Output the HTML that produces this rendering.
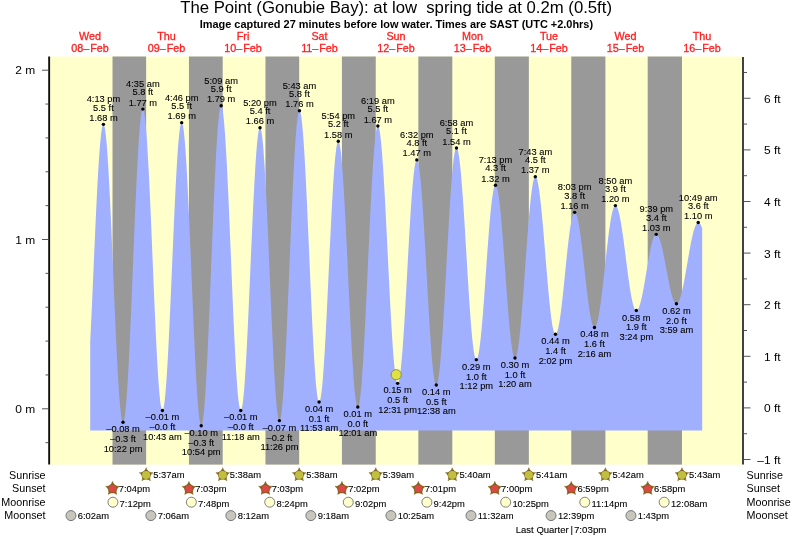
<!DOCTYPE html>
<html lang="en"><head><meta charset="utf-8"><title>The Point (Gonubie Bay) tide times</title>
<style>html,body{margin:0;padding:0;background:#fff}body{width:793px;height:538px;overflow:hidden}svg{display:block}text{font-family:"Liberation Sans",sans-serif;fill:#000}.t{font-size:9.9px;text-anchor:middle;stroke:#000;stroke-width:.1px}.s{font-size:9.4px;stroke:#000;stroke-width:.1px}.d{font-size:10.8px;fill:#ff2020;stroke:#ff2020;stroke-width:.3px;text-anchor:middle}.a{font-size:10.75px}.ar{font-size:10.75px;text-anchor:end}.ax{font-size:11px;text-anchor:end}</style></head><body>
<svg width="793" height="538" viewBox="0 0 793 538">
<rect width="793" height="538" fill="#fff"/>
<text x="396.1" y="13.1" text-anchor="middle" style="font-size:16.72px;fill:#000;white-space:pre" xml:space="preserve">The Point (Gonubie Bay): at low  spring tide at 0.2m (0.5ft)</text>
<text x="396.4" y="27.8" text-anchor="middle" style="font-size:10.95px;font-weight:bold;fill:#000">Image captured 27 minutes before low water. Times are SAST (UTC +2.0hrs)</text>
<rect x="50" y="56.5" width="692.5" height="408.1" fill="#ffffcc"/>
<rect x="112.51" y="56.5" width="33.63" height="408.1" fill="#999999"/>
<rect x="188.96" y="56.5" width="33.73" height="408.1" fill="#999999"/>
<rect x="265.46" y="56.5" width="33.73" height="408.1" fill="#999999"/>
<rect x="341.91" y="56.5" width="33.84" height="408.1" fill="#999999"/>
<rect x="418.35" y="56.5" width="33.95" height="408.1" fill="#999999"/>
<rect x="494.80" y="56.5" width="34.05" height="408.1" fill="#999999"/>
<rect x="571.25" y="56.5" width="34.16" height="408.1" fill="#999999"/>
<rect x="647.69" y="56.5" width="34.27" height="408.1" fill="#999999"/>
<path d="M90.20 430.40L90.20 341.80L90.70 331.67L91.20 321.13L91.70 310.27L92.20 299.16L92.70 287.85L93.20 276.43L93.70 264.95L94.20 253.51L94.70 242.16L95.20 230.98L95.70 220.05L96.20 209.41L96.70 199.16L97.20 189.34L97.70 180.02L98.20 171.27L98.70 163.13L99.20 155.65L99.70 148.88L100.20 142.87L100.70 137.66L101.20 133.26L101.70 129.72L102.20 127.06L102.70 125.29L103.20 124.42L103.70 124.47L104.20 125.46L104.70 127.41L105.20 130.29L105.70 134.09L106.20 138.79L106.70 144.34L107.20 150.73L107.70 157.90L108.20 165.81L108.70 174.41L109.20 183.65L109.70 193.46L110.20 203.78L110.70 214.55L111.20 225.70L111.70 237.15L112.20 248.84L112.70 260.68L113.20 272.60L113.70 284.53L114.20 296.38L114.70 308.09L115.20 319.58L115.70 330.76L116.20 341.58L116.70 351.96L117.20 361.84L117.70 371.15L118.20 379.82L118.70 387.82L119.20 395.08L119.70 401.56L120.20 407.22L120.70 412.02L121.20 415.92L121.70 418.92L122.20 420.97L122.70 422.08L123.20 422.24L123.70 421.41L124.20 419.61L124.70 416.85L125.20 413.13L125.70 408.48L126.20 402.94L126.70 396.54L127.20 389.32L127.70 381.32L128.20 372.59L128.70 363.19L129.20 353.18L129.70 342.62L130.20 331.58L130.70 320.12L131.20 308.32L131.70 296.26L132.20 284.00L132.70 271.63L133.20 259.21L133.70 246.84L134.20 234.59L134.70 222.54L135.20 210.75L135.70 199.31L136.20 188.29L136.70 177.75L137.20 167.77L137.70 158.40L138.20 149.70L138.70 141.73L139.20 134.54L139.70 128.18L140.20 122.68L140.70 118.07L141.20 114.40L141.70 111.67L142.20 109.91L142.70 109.13L143.20 109.33L143.70 110.50L144.20 112.64L144.70 115.72L145.20 119.73L145.70 124.65L146.20 130.44L146.70 137.06L147.20 144.48L147.70 152.63L148.20 161.48L148.70 170.97L149.20 181.02L149.70 191.59L150.20 202.59L150.70 213.97L151.20 225.64L151.70 237.53L152.20 249.56L152.70 261.66L153.20 273.74L153.70 285.74L154.20 297.57L154.70 309.15L155.20 320.42L155.70 331.29L156.20 341.71L156.70 351.59L157.20 360.88L157.70 369.52L158.20 377.46L158.70 384.63L159.20 390.99L159.70 396.51L160.20 401.15L160.70 404.88L161.20 407.66L161.70 409.50L162.20 410.37L162.70 410.27L163.20 409.21L163.70 407.21L164.20 404.28L164.70 400.43L165.20 395.70L165.70 390.11L166.20 383.70L166.70 376.51L167.20 368.59L167.70 360.00L168.20 350.79L168.70 341.01L169.20 330.75L169.70 320.06L170.20 309.01L170.70 297.68L171.20 286.15L171.70 274.48L172.20 262.77L172.70 251.07L173.20 239.48L173.70 228.07L174.20 216.92L174.70 206.09L175.20 195.67L175.70 185.71L176.20 176.29L176.70 167.47L177.20 159.31L177.70 151.85L178.20 145.16L178.70 139.27L179.20 134.23L179.70 130.06L180.20 126.80L180.70 124.47L181.20 123.08L181.70 122.63L182.20 123.16L182.70 124.66L183.20 127.12L183.70 130.54L184.20 134.88L184.70 140.11L185.20 146.22L185.70 153.15L186.20 160.86L186.70 169.30L187.20 178.41L187.70 188.15L188.20 198.44L188.70 209.22L189.20 220.41L189.70 231.96L190.20 243.78L190.70 255.79L191.20 267.92L191.70 280.09L192.20 292.22L192.70 304.24L193.20 316.06L193.70 327.61L194.20 338.82L194.70 349.61L195.20 359.91L195.70 369.66L196.20 378.80L196.70 387.25L197.20 394.98L197.70 401.93L198.20 408.06L198.70 413.32L199.20 417.68L199.70 421.12L200.20 423.60L200.70 425.13L201.20 425.68L201.70 425.24L202.20 423.82L202.70 421.41L203.20 418.03L203.70 413.71L204.20 408.47L204.70 402.34L205.20 395.36L205.70 387.57L206.20 379.03L206.70 369.78L207.20 359.89L207.70 349.41L208.20 338.41L208.70 326.96L209.20 315.13L209.70 302.99L210.20 290.62L210.70 278.10L211.20 265.49L211.70 252.89L212.20 240.37L212.70 228.01L213.20 215.88L213.70 204.06L214.20 192.62L214.70 181.64L215.20 171.17L215.70 161.30L216.20 152.08L216.70 143.56L217.20 135.80L217.70 128.84L218.20 122.74L218.70 117.53L219.20 113.23L219.70 109.89L220.20 107.51L220.70 106.11L221.20 105.71L221.70 106.29L222.20 107.84L222.70 110.36L223.20 113.83L223.70 118.22L224.20 123.51L224.70 129.66L225.20 136.64L225.70 144.40L226.20 152.88L226.70 162.04L227.20 171.82L227.70 182.15L228.20 192.97L228.70 204.21L229.20 215.79L229.70 227.64L230.20 239.69L230.70 251.86L231.20 264.06L231.70 276.23L232.20 288.28L232.70 300.14L233.20 311.73L233.70 322.97L234.20 333.79L234.70 344.14L235.20 353.92L235.70 363.10L236.20 371.60L236.70 379.37L237.20 386.36L237.70 392.53L238.20 397.84L238.70 402.24L239.20 405.73L239.70 408.27L240.20 409.84L240.70 410.44L241.20 410.07L241.70 408.77L242.20 406.53L242.70 403.38L243.20 399.33L243.70 394.41L244.20 388.66L244.70 382.11L245.20 374.80L245.70 366.79L246.20 358.13L246.70 348.88L247.20 339.09L247.70 328.84L248.20 318.19L248.70 307.21L249.20 295.97L249.70 284.56L250.20 273.05L250.70 261.50L251.20 250.01L251.70 238.65L252.20 227.48L252.70 216.60L253.20 206.07L253.70 195.95L254.20 186.32L254.70 177.25L255.20 168.79L255.70 160.99L256.20 153.92L256.70 147.61L257.20 142.12L257.70 137.47L258.20 133.70L258.70 130.83L259.20 128.88L259.70 127.87L260.20 127.80L260.70 128.68L261.20 130.51L261.70 133.28L262.20 136.97L262.70 141.55L263.20 147.00L263.70 153.28L264.20 160.34L264.70 168.15L265.20 176.65L265.70 185.79L266.20 195.50L266.70 205.72L267.20 216.39L267.70 227.44L268.20 238.80L268.70 250.38L269.20 262.12L269.70 273.93L270.20 285.75L270.70 297.50L271.20 309.09L271.70 320.45L272.20 331.51L272.70 342.20L273.20 352.44L273.70 362.17L274.20 371.33L274.70 379.86L275.20 387.69L275.70 394.78L276.20 401.09L276.70 406.57L277.20 411.19L277.70 414.91L278.20 417.71L278.70 419.58L279.20 420.50L279.70 420.46L280.20 419.48L280.70 417.54L281.20 414.68L281.70 410.89L282.20 406.22L282.70 400.68L283.20 394.31L283.70 387.15L284.20 379.25L284.70 370.64L285.20 361.39L285.70 351.55L286.20 341.19L286.70 330.36L287.20 319.13L287.70 307.57L288.20 295.76L288.70 283.76L289.20 271.65L289.70 259.50L290.20 247.40L290.70 235.40L291.20 223.59L291.70 212.04L292.20 200.82L292.70 190.00L293.20 179.64L293.70 169.81L294.20 160.57L294.70 151.98L295.20 144.09L295.70 136.94L296.20 130.59L296.70 125.07L297.20 120.41L297.70 116.64L298.20 113.79L298.70 111.88L299.20 110.91L299.70 110.89L300.20 111.80L300.70 113.63L301.20 116.38L301.70 120.02L302.20 124.53L302.70 129.88L303.20 136.04L303.70 142.96L304.20 150.61L304.70 158.94L305.20 167.89L305.70 177.40L306.20 187.41L306.70 197.87L307.20 208.70L307.70 219.83L308.20 231.20L308.70 242.73L309.20 254.34L309.70 265.97L310.20 277.54L310.70 288.97L311.20 300.19L311.70 311.14L312.20 321.73L312.70 331.91L313.20 341.61L313.70 350.76L314.20 359.31L314.70 367.20L315.20 374.38L315.70 380.82L316.20 386.45L316.70 391.26L317.20 395.21L317.70 398.27L318.20 400.42L318.70 401.66L319.20 401.97L319.70 401.38L320.20 399.93L320.70 397.61L321.20 394.45L321.70 390.47L322.20 385.69L322.70 380.14L323.20 373.87L323.70 366.91L324.20 359.32L324.70 351.13L325.20 342.41L325.70 333.22L326.20 323.62L326.70 313.66L327.20 303.42L327.70 292.97L328.20 282.38L328.70 271.72L329.20 261.05L329.70 250.46L330.20 240.00L330.70 229.76L331.20 219.80L331.70 210.19L332.20 200.99L332.70 192.26L333.20 184.06L333.70 176.46L334.20 169.49L334.70 163.20L335.20 157.64L335.70 152.85L336.20 148.85L336.70 145.67L337.20 143.34L337.70 141.87L338.20 141.27L338.70 141.54L339.20 142.67L339.70 144.65L340.20 147.48L340.70 151.12L341.20 155.56L341.70 160.78L342.20 166.72L342.70 173.37L343.20 180.67L343.70 188.57L344.20 197.03L344.70 205.99L345.20 215.40L345.70 225.18L346.20 235.28L346.70 245.64L347.20 256.18L347.70 266.83L348.20 277.54L348.70 288.22L349.20 298.81L349.70 309.24L350.20 319.44L350.70 329.35L351.20 338.90L351.70 348.03L352.20 356.68L352.70 364.80L353.20 372.33L353.70 379.22L354.20 385.43L354.70 390.91L355.20 395.65L355.70 399.59L356.20 402.72L356.70 405.01L357.20 406.46L357.70 407.04L358.20 406.77L358.70 405.64L359.20 403.66L359.70 400.83L360.20 397.19L360.70 392.75L361.20 387.54L361.70 381.59L362.20 374.93L362.70 367.61L363.20 359.67L363.70 351.16L364.20 342.14L364.70 332.65L365.20 322.76L365.70 312.53L366.20 302.01L366.70 291.28L367.20 280.39L367.70 269.42L368.20 258.44L368.70 247.50L369.20 236.68L369.70 226.04L370.20 215.65L370.70 205.57L371.20 195.86L371.70 186.59L372.20 177.80L372.70 169.56L373.20 161.91L373.70 154.90L374.20 148.57L374.70 142.97L375.20 138.12L375.70 134.05L376.20 130.80L376.70 128.37L377.20 126.79L377.70 126.07L378.20 126.19L378.70 127.13L379.20 128.88L379.70 131.41L380.20 134.73L380.70 138.80L381.20 143.61L381.70 149.12L382.20 155.29L382.70 162.09L383.20 169.48L383.70 177.40L384.20 185.81L384.70 194.66L385.20 203.89L385.70 213.43L386.20 223.24L386.70 233.25L387.20 243.39L387.70 253.60L388.20 263.82L388.70 273.98L389.20 284.02L389.70 293.88L390.20 303.48L390.70 312.78L391.20 321.71L391.70 330.22L392.20 338.26L392.70 345.76L393.20 352.69L393.70 359.00L394.20 364.65L394.70 369.61L395.20 373.84L395.70 377.32L396.20 380.02L396.70 381.94L397.20 383.05L397.70 383.35L398.20 382.88L398.70 381.66L399.20 379.70L399.70 377.02L400.20 373.63L400.70 369.56L401.20 364.83L401.70 359.48L402.20 353.53L402.70 347.04L403.20 340.04L403.70 332.59L404.20 324.72L404.70 316.50L405.20 307.98L405.70 299.21L406.20 290.26L406.70 281.19L407.20 272.05L407.70 262.90L408.20 253.82L408.70 244.85L409.20 236.07L409.70 227.52L410.20 219.27L410.70 211.37L411.20 203.87L411.70 196.83L412.20 190.29L412.70 184.29L413.20 178.88L413.70 174.09L414.20 169.96L414.70 166.50L415.20 163.75L415.70 161.73L416.20 160.44L416.70 159.90L417.20 160.10L417.70 161.03L418.20 162.70L418.70 165.07L419.20 168.15L419.70 171.91L420.20 176.33L420.70 181.37L421.20 187.00L421.70 193.20L422.20 199.91L422.70 207.09L423.20 214.70L423.70 222.69L424.20 231.00L424.70 239.58L425.20 248.38L425.70 257.33L426.20 266.38L426.70 275.48L427.20 284.55L427.70 293.54L428.20 302.40L428.70 311.06L429.20 319.47L429.70 327.57L430.20 335.31L430.70 342.65L431.20 349.52L431.70 355.89L432.20 361.72L432.70 366.97L433.20 371.60L433.70 375.58L434.20 378.89L434.70 381.51L435.20 383.41L435.70 384.59L436.20 385.04L436.70 384.77L437.20 383.77L437.70 382.07L438.20 379.67L438.70 376.58L439.20 372.83L439.70 368.43L440.20 363.42L440.70 357.82L441.20 351.67L441.70 345.01L442.20 337.86L442.70 330.29L443.20 322.33L443.70 314.04L444.20 305.45L444.70 296.64L445.20 287.63L445.70 278.51L446.20 269.30L446.70 260.09L447.20 250.91L447.70 241.82L448.20 232.89L448.70 224.16L449.20 215.68L449.70 207.52L450.20 199.71L450.70 192.30L451.20 185.35L451.70 178.88L452.20 172.95L452.70 167.58L453.20 162.81L453.70 158.67L454.20 155.18L454.70 152.36L455.20 150.24L455.70 148.82L456.20 148.11L456.70 148.11L457.20 148.78L457.70 150.11L458.20 152.08L458.70 154.69L459.20 157.92L459.70 161.75L460.20 166.15L460.70 171.10L461.20 176.57L461.70 182.52L462.20 188.91L462.70 195.71L463.20 202.88L463.70 210.36L464.20 218.11L464.70 226.09L465.20 234.24L465.70 242.52L466.20 250.86L466.70 259.22L467.20 267.55L467.70 275.80L468.20 283.90L468.70 291.82L469.20 299.50L469.70 306.90L470.20 313.96L470.70 320.65L471.20 326.92L471.70 332.74L472.20 338.06L472.70 342.86L473.20 347.10L473.70 350.75L474.20 353.80L474.70 356.23L475.20 358.02L475.70 359.16L476.20 359.64L476.70 359.48L477.20 358.73L477.70 357.41L478.20 355.52L478.70 353.07L479.20 350.08L479.70 346.57L480.20 342.56L480.70 338.09L481.20 333.17L481.70 327.85L482.20 322.15L482.70 316.12L483.20 309.80L483.70 303.23L484.20 296.45L484.70 289.51L485.20 282.46L485.70 275.34L486.20 268.20L486.70 261.09L487.20 254.06L487.70 247.15L488.20 240.41L488.70 233.88L489.20 227.61L489.70 221.65L490.20 216.02L490.70 210.77L491.20 205.94L491.70 201.55L492.20 197.64L492.70 194.23L493.20 191.34L493.70 189.00L494.20 187.22L494.70 186.00L495.20 185.37L495.70 185.32L496.20 185.84L496.70 186.91L497.20 188.53L497.70 190.69L498.20 193.37L498.70 196.56L499.20 200.24L499.70 204.39L500.20 208.96L500.70 213.95L501.20 219.31L501.70 225.00L502.20 231.01L502.70 237.27L503.20 243.76L503.70 250.42L504.20 257.23L504.70 264.13L505.20 271.07L505.70 278.02L506.20 284.93L506.70 291.76L507.20 298.45L507.70 304.97L508.20 311.27L508.70 317.31L509.20 323.06L509.70 328.47L510.20 333.52L510.70 338.16L511.20 342.37L511.70 346.13L512.20 349.40L512.70 352.16L513.20 354.40L513.70 356.11L514.20 357.27L514.70 357.87L515.20 357.91L515.70 357.41L516.20 356.38L516.70 354.81L517.20 352.73L517.70 350.13L518.20 347.04L518.70 343.48L519.20 339.47L519.70 335.02L520.20 330.18L520.70 324.95L521.20 319.39L521.70 313.51L522.20 307.37L522.70 300.98L523.20 294.39L523.70 287.64L524.20 280.77L524.70 273.83L525.20 266.84L525.70 259.85L526.20 252.92L526.70 246.06L527.20 239.34L527.70 232.78L528.20 226.43L528.70 220.32L529.20 214.49L529.70 208.98L530.20 203.81L530.70 199.02L531.20 194.65L531.70 190.70L532.20 187.21L532.70 184.20L533.20 181.68L533.70 179.68L534.20 178.19L534.70 177.24L535.20 176.83L535.70 176.94L536.20 177.53L536.70 178.59L537.20 180.12L537.70 182.11L538.20 184.55L538.70 187.42L539.20 190.70L539.70 194.38L540.20 198.43L540.70 202.82L541.20 207.54L541.70 212.55L542.20 217.82L542.70 223.32L543.20 229.02L543.70 234.88L544.20 240.86L544.70 246.93L545.20 253.06L545.70 259.20L546.20 265.32L546.70 271.37L547.20 277.34L547.70 283.17L548.20 288.83L548.70 294.28L549.20 299.51L549.70 304.46L550.20 309.12L550.70 313.45L551.20 317.43L551.70 321.03L552.20 324.24L552.70 327.03L553.20 329.38L553.70 331.28L554.20 332.72L554.70 333.69L555.20 334.19L555.70 334.21L556.20 333.82L556.70 333.02L557.20 331.82L557.70 330.23L558.20 328.26L558.70 325.92L559.20 323.22L559.70 320.19L560.20 316.85L560.70 313.22L561.20 309.31L561.70 305.17L562.20 300.81L562.70 296.27L563.20 291.57L563.70 286.75L564.20 281.85L564.70 276.88L565.20 271.89L565.70 266.91L566.20 261.97L566.70 257.11L567.20 252.36L567.70 247.75L568.20 243.31L568.70 239.07L569.20 235.06L569.70 231.30L570.20 227.83L570.70 224.66L571.20 221.82L571.70 219.33L572.20 217.19L572.70 215.44L573.20 214.07L573.70 213.09L574.20 212.53L574.70 212.36L575.20 212.58L575.70 213.16L576.20 214.10L576.70 215.38L577.20 217.01L577.70 218.97L578.20 221.26L578.70 223.84L579.20 226.72L579.70 229.87L580.20 233.27L580.70 236.90L581.20 240.73L581.70 244.75L582.20 248.93L582.70 253.24L583.20 257.66L583.70 262.15L584.20 266.69L584.70 271.25L585.20 275.80L585.70 280.32L586.20 284.77L586.70 289.13L587.20 293.36L587.70 297.45L588.20 301.37L588.70 305.09L589.20 308.59L589.70 311.84L590.20 314.83L590.70 317.55L591.20 319.96L591.70 322.05L592.20 323.82L592.70 325.25L593.20 326.34L593.70 327.07L594.20 327.44L594.70 327.45L595.20 327.11L595.70 326.44L596.20 325.43L596.70 324.08L597.20 322.41L597.70 320.43L598.20 318.15L598.70 315.57L599.20 312.72L599.70 309.60L600.20 306.25L600.70 302.67L601.20 298.89L601.70 294.93L602.20 290.80L602.70 286.54L603.20 282.17L603.70 277.71L604.20 273.19L604.70 268.62L605.20 264.05L605.70 259.49L606.20 254.97L606.70 250.52L607.20 246.16L607.70 241.91L608.20 237.80L608.70 233.85L609.20 230.08L609.70 226.52L610.20 223.19L610.70 220.10L611.20 217.27L611.70 214.72L612.20 212.46L612.70 210.50L613.20 208.86L613.70 207.55L614.20 206.57L614.70 205.92L615.20 205.62L615.70 205.65L616.20 205.97L616.70 206.60L617.20 207.51L617.70 208.70L618.20 210.18L618.70 211.92L619.20 213.92L619.70 216.18L620.20 218.66L620.70 221.37L621.20 224.29L621.70 227.40L622.20 230.67L622.70 234.11L623.20 237.68L623.70 241.36L624.20 245.14L624.70 248.99L625.20 252.89L625.70 256.82L626.20 260.76L626.70 264.68L627.20 268.56L627.70 272.39L628.20 276.13L628.70 279.78L629.20 283.30L629.70 286.68L630.20 289.90L630.70 292.94L631.20 295.78L631.70 298.41L632.20 300.81L632.70 302.98L633.20 304.89L633.70 306.54L634.20 307.91L634.70 309.00L635.20 309.81L635.70 310.33L636.20 310.55L636.70 310.49L637.20 310.19L637.70 309.66L638.20 308.90L638.70 307.92L639.20 306.71L639.70 305.29L640.20 303.66L640.70 301.84L641.20 299.84L641.70 297.67L642.20 295.34L642.70 292.87L643.20 290.28L643.70 287.57L644.20 284.77L644.70 281.89L645.20 278.95L645.70 275.98L646.20 272.98L646.70 269.98L647.20 266.99L647.70 264.04L648.20 261.14L648.70 258.31L649.20 255.57L649.70 252.93L650.20 250.42L650.70 248.04L651.20 245.81L651.70 243.75L652.20 241.87L652.70 240.18L653.20 238.68L653.70 237.40L654.20 236.34L654.70 235.50L655.20 234.89L655.70 234.51L656.20 234.37L656.70 234.46L657.20 234.75L657.70 235.25L658.20 235.96L658.70 236.87L659.20 237.97L659.70 239.26L660.20 240.73L660.70 242.38L661.20 244.18L661.70 246.14L662.20 248.23L662.70 250.45L663.20 252.78L663.70 255.21L664.20 257.73L664.70 260.31L665.20 262.95L665.70 265.62L666.20 268.32L666.70 271.02L667.20 273.71L667.70 276.36L668.20 278.98L668.70 281.54L669.20 284.02L669.70 286.41L670.20 288.69L670.70 290.86L671.20 292.89L671.70 294.78L672.20 296.52L672.70 298.09L673.20 299.48L673.70 300.69L674.20 301.71L674.70 302.53L675.20 303.15L675.70 303.56L676.20 303.76L676.70 303.75L677.20 303.54L677.70 303.11L678.20 302.47L678.70 301.63L679.20 300.59L679.70 299.36L680.20 297.94L680.70 296.33L681.20 294.56L681.70 292.62L682.20 290.53L682.70 288.29L683.20 285.93L683.70 283.44L684.20 280.85L684.70 278.17L685.20 275.41L685.70 272.59L686.20 269.72L686.70 266.81L687.20 263.88L687.70 260.96L688.20 258.04L688.70 255.15L689.20 252.30L689.70 249.50L690.20 246.78L690.70 244.14L691.20 241.61L691.70 239.18L692.20 236.88L692.70 234.71L693.20 232.70L693.70 230.84L694.20 229.15L694.70 227.63L695.20 226.30L695.70 225.17L696.20 224.23L696.70 223.49L697.20 222.96L697.70 222.63L698.20 222.52L698.70 222.61L699.20 222.89L699.70 223.35L700.20 224.00L700.70 224.84L701.20 225.84L701.70 227.02L702.20 228.37L702.20 430.40 Z" fill="#a0b0ff"/>
<g stroke="#111" stroke-width="1.9" fill="none">
<line x1="49.15" y1="56.5" x2="49.15" y2="464.6"/>
</g><g stroke="#2c2c2c" stroke-width="1.8" fill="none">
<line x1="743" y1="57" x2="743" y2="464.6"/>
</g><g stroke="#555" stroke-width="1" fill="none">
<line x1="45.5" y1="442.66" x2="48.5" y2="442.66"/>
<line x1="42" y1="408.80" x2="48.5" y2="408.80"/>
<line x1="45.5" y1="374.94" x2="48.5" y2="374.94"/>
<line x1="45.5" y1="341.08" x2="48.5" y2="341.08"/>
<line x1="45.5" y1="307.22" x2="48.5" y2="307.22"/>
<line x1="45.5" y1="273.36" x2="48.5" y2="273.36"/>
<line x1="42" y1="239.50" x2="48.5" y2="239.50"/>
<line x1="45.5" y1="205.64" x2="48.5" y2="205.64"/>
<line x1="45.5" y1="171.78" x2="48.5" y2="171.78"/>
<line x1="45.5" y1="137.92" x2="48.5" y2="137.92"/>
<line x1="45.5" y1="104.06" x2="48.5" y2="104.06"/>
<line x1="42" y1="70.20" x2="48.5" y2="70.20"/>
<line x1="743.5" y1="459.50" x2="750.5" y2="459.50"/>
<line x1="743.5" y1="433.70" x2="747" y2="433.70"/>
<line x1="743.5" y1="407.90" x2="750.5" y2="407.90"/>
<line x1="743.5" y1="382.10" x2="747" y2="382.10"/>
<line x1="743.5" y1="356.30" x2="750.5" y2="356.30"/>
<line x1="743.5" y1="330.50" x2="747" y2="330.50"/>
<line x1="743.5" y1="304.69" x2="750.5" y2="304.69"/>
<line x1="743.5" y1="278.89" x2="747" y2="278.89"/>
<line x1="743.5" y1="253.09" x2="750.5" y2="253.09"/>
<line x1="743.5" y1="227.29" x2="747" y2="227.29"/>
<line x1="743.5" y1="201.49" x2="750.5" y2="201.49"/>
<line x1="743.5" y1="175.69" x2="747" y2="175.69"/>
<line x1="743.5" y1="149.89" x2="750.5" y2="149.89"/>
<line x1="743.5" y1="124.09" x2="747" y2="124.09"/>
<line x1="743.5" y1="98.28" x2="750.5" y2="98.28"/>
<line x1="743.5" y1="72.48" x2="747" y2="72.48"/>
</g>
<text class="ax" transform="translate(35.3 412.8) scale(1.09 1)">0 m</text>
<text class="ax" transform="translate(35.3 243.5) scale(1.09 1)">1 m</text>
<text class="ax" transform="translate(35.3 74.2) scale(1.09 1)">2 m</text>
<text class="ax" transform="translate(780.6 463.9) scale(1.09 1)">–1 ft</text>
<text class="ax" transform="translate(780.6 412.3) scale(1.09 1)">0 ft</text>
<text class="ax" transform="translate(780.6 360.7) scale(1.09 1)">1 ft</text>
<text class="ax" transform="translate(780.6 309.1) scale(1.09 1)">2 ft</text>
<text class="ax" transform="translate(780.6 257.5) scale(1.09 1)">3 ft</text>
<text class="ax" transform="translate(780.6 205.9) scale(1.09 1)">4 ft</text>
<text class="ax" transform="translate(780.6 154.3) scale(1.09 1)">5 ft</text>
<text class="ax" transform="translate(780.6 102.7) scale(1.09 1)">6 ft</text>
<text class="d" x="90.0" y="39.5">Wed</text>
<text class="d" x="90.0" y="51.6">08–<tspan dx="0.9">Feb</tspan></text>
<text class="d" x="166.5" y="39.5">Thu</text>
<text class="d" x="166.5" y="51.6">09–<tspan dx="0.9">Feb</tspan></text>
<text class="d" x="243.0" y="39.5">Fri</text>
<text class="d" x="243.0" y="51.6">10–<tspan dx="0.9">Feb</tspan></text>
<text class="d" x="319.5" y="39.5">Sat</text>
<text class="d" x="319.5" y="51.6">11–<tspan dx="0.9">Feb</tspan></text>
<text class="d" x="396.0" y="39.5">Sun</text>
<text class="d" x="396.0" y="51.6">12–<tspan dx="0.9">Feb</tspan></text>
<text class="d" x="472.5" y="39.5">Mon</text>
<text class="d" x="472.5" y="51.6">13–<tspan dx="0.9">Feb</tspan></text>
<text class="d" x="549.0" y="39.5">Tue</text>
<text class="d" x="549.0" y="51.6">14–<tspan dx="0.9">Feb</tspan></text>
<text class="d" x="625.5" y="39.5">Wed</text>
<text class="d" x="625.5" y="51.6">15–<tspan dx="0.9">Feb</tspan></text>
<text class="d" x="702.0" y="39.5">Thu</text>
<text class="d" x="702.0" y="51.6">16–<tspan dx="0.9">Feb</tspan></text>
<circle cx="103.43" cy="124.33" r="1.7" fill="#000"/>
<text class="t" transform="translate(103.43 102.43) scale(0.94 1)">4:13 pm</text>
<text class="t" transform="translate(103.43 110.53) scale(0.94 1)">5.5 ft</text>
<text class="t" transform="translate(103.43 120.93) scale(0.94 1)">1.68 m</text>
<circle cx="123.03" cy="422.29" r="1.7" fill="#000"/>
<text class="t" transform="translate(123.03 432.29) scale(0.94 1)">–0.08 m</text>
<text class="t" transform="translate(123.03 442.19) scale(0.94 1)">–0.3 ft</text>
<text class="t" transform="translate(123.03 451.59) scale(0.94 1)">10:22 pm</text>
<circle cx="142.85" cy="109.09" r="1.7" fill="#000"/>
<text class="t" transform="translate(142.85 87.19) scale(0.94 1)">4:35 am</text>
<text class="t" transform="translate(142.85 95.29) scale(0.94 1)">5.8 ft</text>
<text class="t" transform="translate(142.85 105.69) scale(0.94 1)">1.77 m</text>
<circle cx="162.40" cy="410.44" r="1.7" fill="#000"/>
<text class="t" transform="translate(162.40 420.44) scale(0.94 1)">–0.01 m</text>
<text class="t" transform="translate(162.40 430.34) scale(0.94 1)">–0.0 ft</text>
<text class="t" transform="translate(162.40 439.74) scale(0.94 1)">10:43 am</text>
<circle cx="181.68" cy="122.63" r="1.7" fill="#000"/>
<text class="t" transform="translate(181.68 100.73) scale(0.94 1)">4:46 pm</text>
<text class="t" transform="translate(181.68 108.83) scale(0.94 1)">5.5 ft</text>
<text class="t" transform="translate(181.68 119.23) scale(0.94 1)">1.69 m</text>
<circle cx="201.23" cy="425.68" r="1.7" fill="#000"/>
<text class="t" transform="translate(201.23 435.68) scale(0.94 1)">–0.10 m</text>
<text class="t" transform="translate(201.23 445.58) scale(0.94 1)">–0.3 ft</text>
<text class="t" transform="translate(201.23 454.98) scale(0.94 1)">10:54 pm</text>
<circle cx="221.15" cy="105.70" r="1.7" fill="#000"/>
<text class="t" transform="translate(221.15 83.80) scale(0.94 1)">5:09 am</text>
<text class="t" transform="translate(221.15 91.90) scale(0.94 1)">5.9 ft</text>
<text class="t" transform="translate(221.15 102.30) scale(0.94 1)">1.79 m</text>
<circle cx="240.76" cy="410.44" r="1.7" fill="#000"/>
<text class="t" transform="translate(240.76 420.44) scale(0.94 1)">–0.01 m</text>
<text class="t" transform="translate(240.76 430.34) scale(0.94 1)">–0.0 ft</text>
<text class="t" transform="translate(240.76 439.74) scale(0.94 1)">11:18 am</text>
<circle cx="259.99" cy="127.71" r="1.7" fill="#000"/>
<text class="t" transform="translate(259.99 105.81) scale(0.94 1)">5:20 pm</text>
<text class="t" transform="translate(259.99 113.91) scale(0.94 1)">5.4 ft</text>
<text class="t" transform="translate(259.99 124.31) scale(0.94 1)">1.66 m</text>
<circle cx="279.43" cy="420.60" r="1.7" fill="#000"/>
<text class="t" transform="translate(279.43 430.60) scale(0.94 1)">–0.07 m</text>
<text class="t" transform="translate(279.43 440.50) scale(0.94 1)">–0.2 ft</text>
<text class="t" transform="translate(279.43 449.90) scale(0.94 1)">11:26 pm</text>
<circle cx="299.46" cy="110.78" r="1.7" fill="#000"/>
<text class="t" transform="translate(299.46 88.88) scale(0.94 1)">5:43 am</text>
<text class="t" transform="translate(299.46 96.98) scale(0.94 1)">5.8 ft</text>
<text class="t" transform="translate(299.46 107.38) scale(0.94 1)">1.76 m</text>
<circle cx="319.12" cy="401.98" r="1.7" fill="#000"/>
<text class="t" transform="translate(319.12 411.98) scale(0.94 1)">0.04 m</text>
<text class="t" transform="translate(319.12 421.88) scale(0.94 1)">0.1 ft</text>
<text class="t" transform="translate(319.12 431.28) scale(0.94 1)">11:53 am</text>
<circle cx="338.29" cy="141.26" r="1.7" fill="#000"/>
<text class="t" transform="translate(338.29 119.36) scale(0.94 1)">5:54 pm</text>
<text class="t" transform="translate(338.29 127.46) scale(0.94 1)">5.2 ft</text>
<text class="t" transform="translate(338.29 137.86) scale(0.94 1)">1.58 m</text>
<circle cx="357.79" cy="407.06" r="1.7" fill="#000"/>
<text class="t" transform="translate(357.79 417.06) scale(0.94 1)">0.01 m</text>
<text class="t" transform="translate(357.79 426.96) scale(0.94 1)">0.0 ft</text>
<text class="t" transform="translate(357.79 436.36) scale(0.94 1)">12:01 am</text>
<circle cx="377.87" cy="126.02" r="1.7" fill="#000"/>
<text class="t" transform="translate(377.87 104.12) scale(0.94 1)">6:19 am</text>
<text class="t" transform="translate(377.87 112.22) scale(0.94 1)">5.5 ft</text>
<text class="t" transform="translate(377.87 122.62) scale(0.94 1)">1.67 m</text>
<circle cx="397.63" cy="383.36" r="1.7" fill="#000"/>
<text class="t" transform="translate(397.63 393.36) scale(0.94 1)">0.15 m</text>
<text class="t" transform="translate(397.63 403.25) scale(0.94 1)">0.5 ft</text>
<text class="t" transform="translate(397.63 412.66) scale(0.94 1)">12:31 pm</text>
<circle cx="416.81" cy="159.88" r="1.7" fill="#000"/>
<text class="t" transform="translate(416.81 137.98) scale(0.94 1)">6:32 pm</text>
<text class="t" transform="translate(416.81 146.08) scale(0.94 1)">4.8 ft</text>
<text class="t" transform="translate(416.81 156.48) scale(0.94 1)">1.47 m</text>
<circle cx="436.26" cy="385.05" r="1.7" fill="#000"/>
<text class="t" transform="translate(436.26 395.05) scale(0.94 1)">0.14 m</text>
<text class="t" transform="translate(436.26 404.95) scale(0.94 1)">0.5 ft</text>
<text class="t" transform="translate(436.26 414.35) scale(0.94 1)">12:38 am</text>
<circle cx="456.44" cy="148.03" r="1.7" fill="#000"/>
<text class="t" transform="translate(456.44 126.13) scale(0.94 1)">6:58 am</text>
<text class="t" transform="translate(456.44 134.23) scale(0.94 1)">5.1 ft</text>
<text class="t" transform="translate(456.44 144.63) scale(0.94 1)">1.54 m</text>
<circle cx="476.31" cy="359.65" r="1.7" fill="#000"/>
<text class="t" transform="translate(476.31 369.65) scale(0.94 1)">0.29 m</text>
<text class="t" transform="translate(476.31 379.55) scale(0.94 1)">1.0 ft</text>
<text class="t" transform="translate(476.31 388.95) scale(0.94 1)">1:12 pm</text>
<circle cx="495.49" cy="185.27" r="1.7" fill="#000"/>
<text class="t" transform="translate(495.49 163.37) scale(0.94 1)">7:13 pm</text>
<text class="t" transform="translate(495.49 171.47) scale(0.94 1)">4.3 ft</text>
<text class="t" transform="translate(495.49 181.87) scale(0.94 1)">1.32 m</text>
<circle cx="514.99" cy="357.96" r="1.7" fill="#000"/>
<text class="t" transform="translate(514.99 367.96) scale(0.94 1)">0.30 m</text>
<text class="t" transform="translate(514.99 377.86) scale(0.94 1)">1.0 ft</text>
<text class="t" transform="translate(514.99 387.26) scale(0.94 1)">1:20 am</text>
<circle cx="535.33" cy="176.81" r="1.7" fill="#000"/>
<text class="t" transform="translate(535.33 154.91) scale(0.94 1)">7:43 am</text>
<text class="t" transform="translate(535.33 163.01) scale(0.94 1)">4.5 ft</text>
<text class="t" transform="translate(535.33 173.41) scale(0.94 1)">1.37 m</text>
<circle cx="555.47" cy="334.26" r="1.7" fill="#000"/>
<text class="t" transform="translate(555.47 344.26) scale(0.94 1)">0.44 m</text>
<text class="t" transform="translate(555.47 354.16) scale(0.94 1)">1.4 ft</text>
<text class="t" transform="translate(555.47 363.56) scale(0.94 1)">2:02 pm</text>
<circle cx="574.65" cy="212.36" r="1.7" fill="#000"/>
<text class="t" transform="translate(574.65 190.46) scale(0.94 1)">8:03 pm</text>
<text class="t" transform="translate(574.65 198.56) scale(0.94 1)">3.8 ft</text>
<text class="t" transform="translate(574.65 208.96) scale(0.94 1)">1.16 m</text>
<circle cx="594.46" cy="327.49" r="1.7" fill="#000"/>
<text class="t" transform="translate(594.46 337.49) scale(0.94 1)">0.48 m</text>
<text class="t" transform="translate(594.46 347.39) scale(0.94 1)">1.6 ft</text>
<text class="t" transform="translate(594.46 356.79) scale(0.94 1)">2:16 am</text>
<circle cx="615.39" cy="205.59" r="1.7" fill="#000"/>
<text class="t" transform="translate(615.39 183.69) scale(0.94 1)">8:50 am</text>
<text class="t" transform="translate(615.39 191.79) scale(0.94 1)">3.9 ft</text>
<text class="t" transform="translate(615.39 202.19) scale(0.94 1)">1.20 m</text>
<circle cx="636.33" cy="310.56" r="1.7" fill="#000"/>
<text class="t" transform="translate(636.33 320.56) scale(0.94 1)">0.58 m</text>
<text class="t" transform="translate(636.33 330.46) scale(0.94 1)">1.9 ft</text>
<text class="t" transform="translate(636.33 339.86) scale(0.94 1)">3:24 pm</text>
<circle cx="656.25" cy="234.37" r="1.7" fill="#000"/>
<text class="t" transform="translate(656.25 212.47) scale(0.94 1)">9:39 pm</text>
<text class="t" transform="translate(656.25 220.57) scale(0.94 1)">3.4 ft</text>
<text class="t" transform="translate(656.25 230.97) scale(0.94 1)">1.03 m</text>
<circle cx="676.43" cy="303.78" r="1.7" fill="#000"/>
<text class="t" transform="translate(676.43 313.78) scale(0.94 1)">0.62 m</text>
<text class="t" transform="translate(676.43 323.68) scale(0.94 1)">2.0 ft</text>
<text class="t" transform="translate(676.43 333.08) scale(0.94 1)">3:59 am</text>
<circle cx="698.22" cy="222.52" r="1.7" fill="#000"/>
<text class="t" transform="translate(698.22 200.62) scale(0.94 1)">10:49 am</text>
<text class="t" transform="translate(698.22 208.72) scale(0.94 1)">3.6 ft</text>
<text class="t" transform="translate(698.22 219.12) scale(0.94 1)">1.10 m</text>
<circle cx="396.20" cy="374.7" r="5.1" fill="#e0e044" stroke="#84844c" stroke-width="0.9"/>
<polygon points="146.14,467.70 147.96,472.39 152.99,472.68 149.09,475.86 150.37,480.72 146.14,478.00 141.91,480.72 143.19,475.86 139.29,472.68 144.32,472.39" fill="#a89c34" stroke="#7c5c14" stroke-width="0.5" stroke-linejoin="miter"/>
<polygon points="146.14,469.60 151.18,473.26 149.26,479.19 143.03,479.19 141.10,473.26" fill="#80601a" stroke="#80601a" stroke-width="0.6" stroke-linejoin="round"/>
<circle cx="146.14" cy="475.00" r="4.1" fill="#c0c040"/>
<text class="s" x="153.2" y="477.8">5:37am</text>
<polygon points="222.69,467.70 224.52,472.39 229.54,472.68 225.64,475.86 226.93,480.72 222.69,478.00 218.46,480.72 219.75,475.86 215.85,472.68 220.87,472.39" fill="#a89c34" stroke="#7c5c14" stroke-width="0.5" stroke-linejoin="miter"/>
<polygon points="222.69,469.60 227.73,473.26 225.81,479.19 219.58,479.19 217.65,473.26" fill="#80601a" stroke="#80601a" stroke-width="0.6" stroke-linejoin="round"/>
<circle cx="222.69" cy="475.00" r="4.1" fill="#c0c040"/>
<text class="s" x="229.8" y="477.8">5:38am</text>
<polygon points="299.19,467.70 301.02,472.39 306.04,472.68 302.14,475.86 303.43,480.72 299.19,478.00 294.96,480.72 296.25,475.86 292.35,472.68 297.37,472.39" fill="#a89c34" stroke="#7c5c14" stroke-width="0.5" stroke-linejoin="miter"/>
<polygon points="299.19,469.60 304.23,473.26 302.31,479.19 296.08,479.19 294.15,473.26" fill="#80601a" stroke="#80601a" stroke-width="0.6" stroke-linejoin="round"/>
<circle cx="299.19" cy="475.00" r="4.1" fill="#c0c040"/>
<text class="s" x="306.3" y="477.8">5:38am</text>
<polygon points="375.75,467.70 377.57,472.39 382.59,472.68 378.70,475.86 379.98,480.72 375.75,478.00 371.51,480.72 372.80,475.86 368.90,472.68 373.92,472.39" fill="#a89c34" stroke="#7c5c14" stroke-width="0.5" stroke-linejoin="miter"/>
<polygon points="375.75,469.60 380.79,473.26 378.86,479.19 372.63,479.19 370.71,473.26" fill="#80601a" stroke="#80601a" stroke-width="0.6" stroke-linejoin="round"/>
<circle cx="375.75" cy="475.00" r="4.1" fill="#c0c040"/>
<text class="s" x="382.8" y="477.8">5:39am</text>
<polygon points="452.30,467.70 454.12,472.39 459.15,472.68 455.25,475.86 456.53,480.72 452.30,478.00 448.07,480.72 449.35,475.86 445.45,472.68 450.48,472.39" fill="#a89c34" stroke="#7c5c14" stroke-width="0.5" stroke-linejoin="miter"/>
<polygon points="452.30,469.60 457.34,473.26 455.42,479.19 449.18,479.19 447.26,473.26" fill="#80601a" stroke="#80601a" stroke-width="0.6" stroke-linejoin="round"/>
<circle cx="452.30" cy="475.00" r="4.1" fill="#c0c040"/>
<text class="s" x="459.4" y="477.8">5:40am</text>
<polygon points="528.85,467.70 530.68,472.39 535.70,472.68 531.80,475.86 533.09,480.72 528.85,478.00 524.62,480.72 525.90,475.86 522.01,472.68 527.03,472.39" fill="#a89c34" stroke="#7c5c14" stroke-width="0.5" stroke-linejoin="miter"/>
<polygon points="528.85,469.60 533.89,473.26 531.97,479.19 525.74,479.19 523.81,473.26" fill="#80601a" stroke="#80601a" stroke-width="0.6" stroke-linejoin="round"/>
<circle cx="528.85" cy="475.00" r="4.1" fill="#c0c040"/>
<text class="s" x="536.0" y="477.8">5:41am</text>
<polygon points="605.41,467.70 607.23,472.39 612.25,472.68 608.35,475.86 609.64,480.72 605.41,478.00 601.17,480.72 602.46,475.86 598.56,472.68 603.58,472.39" fill="#a89c34" stroke="#7c5c14" stroke-width="0.5" stroke-linejoin="miter"/>
<polygon points="605.41,469.60 610.45,473.26 608.52,479.19 602.29,479.19 600.37,473.26" fill="#80601a" stroke="#80601a" stroke-width="0.6" stroke-linejoin="round"/>
<circle cx="605.41" cy="475.00" r="4.1" fill="#c0c040"/>
<text class="s" x="612.5" y="477.8">5:42am</text>
<polygon points="681.96,467.70 683.78,472.39 688.81,472.68 684.91,475.86 686.19,480.72 681.96,478.00 677.73,480.72 679.01,475.86 675.11,472.68 680.14,472.39" fill="#a89c34" stroke="#7c5c14" stroke-width="0.5" stroke-linejoin="miter"/>
<polygon points="681.96,469.60 687.00,473.26 685.07,479.19 678.84,479.19 676.92,473.26" fill="#80601a" stroke="#80601a" stroke-width="0.6" stroke-linejoin="round"/>
<circle cx="681.96" cy="475.00" r="4.1" fill="#c0c040"/>
<text class="s" x="689.1" y="477.8">5:43am</text>
<polygon points="112.51,481.40 114.33,486.09 119.36,486.38 115.46,489.56 116.74,494.42 112.51,491.70 108.28,494.42 109.56,489.56 105.66,486.38 110.69,486.09" fill="#8c7420" stroke="#7c5c14" stroke-width="0.5" stroke-linejoin="miter"/>
<polygon points="112.51,483.30 117.55,486.96 115.63,492.89 109.40,492.89 107.47,486.96" fill="#80601a" stroke="#80601a" stroke-width="0.6" stroke-linejoin="round"/>
<circle cx="112.51" cy="488.70" r="3.7" fill="#dc4844"/>
<text class="s" x="118.8" y="492.1">7:04pm</text>
<polygon points="188.96,481.40 190.78,486.09 195.81,486.38 191.91,489.56 193.19,494.42 188.96,491.70 184.73,494.42 186.01,489.56 182.11,486.38 187.14,486.09" fill="#8c7420" stroke="#7c5c14" stroke-width="0.5" stroke-linejoin="miter"/>
<polygon points="188.96,483.30 194.00,486.96 192.07,492.89 185.84,492.89 183.92,486.96" fill="#80601a" stroke="#80601a" stroke-width="0.6" stroke-linejoin="round"/>
<circle cx="188.96" cy="488.70" r="3.7" fill="#dc4844"/>
<text class="s" x="195.3" y="492.1">7:03pm</text>
<polygon points="265.46,481.40 267.28,486.09 272.31,486.38 268.41,489.56 269.69,494.42 265.46,491.70 261.23,494.42 262.51,489.56 258.61,486.38 263.64,486.09" fill="#8c7420" stroke="#7c5c14" stroke-width="0.5" stroke-linejoin="miter"/>
<polygon points="265.46,483.30 270.50,486.96 268.57,492.89 262.34,492.89 260.42,486.96" fill="#80601a" stroke="#80601a" stroke-width="0.6" stroke-linejoin="round"/>
<circle cx="265.46" cy="488.70" r="3.7" fill="#dc4844"/>
<text class="s" x="271.8" y="492.1">7:03pm</text>
<polygon points="341.91,481.40 343.73,486.09 348.75,486.38 344.85,489.56 346.14,494.42 341.91,491.70 337.67,494.42 338.96,489.56 335.06,486.38 340.08,486.09" fill="#8c7420" stroke="#7c5c14" stroke-width="0.5" stroke-linejoin="miter"/>
<polygon points="341.91,483.30 346.95,486.96 345.02,492.89 338.79,492.89 336.87,486.96" fill="#80601a" stroke="#80601a" stroke-width="0.6" stroke-linejoin="round"/>
<circle cx="341.91" cy="488.70" r="3.7" fill="#dc4844"/>
<text class="s" x="348.2" y="492.1">7:02pm</text>
<polygon points="418.35,481.40 420.18,486.09 425.20,486.38 421.30,489.56 422.59,494.42 418.35,491.70 414.12,494.42 415.40,489.56 411.51,486.38 416.53,486.09" fill="#8c7420" stroke="#7c5c14" stroke-width="0.5" stroke-linejoin="miter"/>
<polygon points="418.35,483.30 423.39,486.96 421.47,492.89 415.24,492.89 413.31,486.96" fill="#80601a" stroke="#80601a" stroke-width="0.6" stroke-linejoin="round"/>
<circle cx="418.35" cy="488.70" r="3.7" fill="#dc4844"/>
<text class="s" x="424.7" y="492.1">7:01pm</text>
<polygon points="494.80,481.40 496.62,486.09 501.65,486.38 497.75,489.56 499.03,494.42 494.80,491.70 490.57,494.42 491.85,489.56 487.95,486.38 492.98,486.09" fill="#8c7420" stroke="#7c5c14" stroke-width="0.5" stroke-linejoin="miter"/>
<polygon points="494.80,483.30 499.84,486.96 497.92,492.89 491.68,492.89 489.76,486.96" fill="#80601a" stroke="#80601a" stroke-width="0.6" stroke-linejoin="round"/>
<circle cx="494.80" cy="488.70" r="3.7" fill="#dc4844"/>
<text class="s" x="501.1" y="492.1">7:00pm</text>
<polygon points="571.25,481.40 573.07,486.09 578.09,486.38 574.20,489.56 575.48,494.42 571.25,491.70 567.01,494.42 568.30,489.56 564.40,486.38 569.42,486.09" fill="#8c7420" stroke="#7c5c14" stroke-width="0.5" stroke-linejoin="miter"/>
<polygon points="571.25,483.30 576.29,486.96 574.36,492.89 568.13,492.89 566.21,486.96" fill="#80601a" stroke="#80601a" stroke-width="0.6" stroke-linejoin="round"/>
<circle cx="571.25" cy="488.70" r="3.7" fill="#dc4844"/>
<text class="s" x="577.5" y="492.1">6:59pm</text>
<polygon points="647.69,481.40 649.52,486.09 654.54,486.38 650.64,489.56 651.93,494.42 647.69,491.70 643.46,494.42 644.75,489.56 640.85,486.38 645.87,486.09" fill="#8c7420" stroke="#7c5c14" stroke-width="0.5" stroke-linejoin="miter"/>
<polygon points="647.69,483.30 652.73,486.96 650.81,492.89 644.58,492.89 642.65,486.96" fill="#80601a" stroke="#80601a" stroke-width="0.6" stroke-linejoin="round"/>
<circle cx="647.69" cy="488.70" r="3.7" fill="#dc4844"/>
<text class="s" x="654.0" y="492.1">6:58pm</text>
<circle cx="112.94" cy="502.20" r="5" fill="#ffffcc" stroke="#808080" stroke-width="1"/>
<text class="s" x="119.6" y="506.6">7:12pm</text>
<circle cx="191.35" cy="502.20" r="5" fill="#ffffcc" stroke="#808080" stroke-width="1"/>
<text class="s" x="198.0" y="506.6">7:48pm</text>
<circle cx="269.76" cy="502.20" r="5" fill="#ffffcc" stroke="#808080" stroke-width="1"/>
<text class="s" x="276.5" y="506.6">8:24pm</text>
<circle cx="348.28" cy="502.20" r="5" fill="#ffffcc" stroke="#808080" stroke-width="1"/>
<text class="s" x="355.0" y="506.6">9:02pm</text>
<circle cx="426.91" cy="502.20" r="5" fill="#ffffcc" stroke="#808080" stroke-width="1"/>
<text class="s" x="433.6" y="506.6">9:42pm</text>
<circle cx="505.69" cy="502.20" r="5" fill="#ffffcc" stroke="#808080" stroke-width="1"/>
<text class="s" x="512.4" y="506.6">10:25pm</text>
<circle cx="584.79" cy="502.20" r="5" fill="#ffffcc" stroke="#808080" stroke-width="1"/>
<text class="s" x="591.5" y="506.6">11:14pm</text>
<circle cx="664.16" cy="502.20" r="5" fill="#ffffcc" stroke="#808080" stroke-width="1"/>
<text class="s" x="670.9" y="506.6">12:08am</text>
<circle cx="70.97" cy="515.60" r="5" fill="#c8c6ba" stroke="#777" stroke-width="1"/>
<text class="s" x="77.8" y="519.3">6:02am</text>
<circle cx="150.87" cy="515.60" r="5" fill="#c8c6ba" stroke="#777" stroke-width="1"/>
<text class="s" x="157.7" y="519.3">7:06am</text>
<circle cx="230.88" cy="515.60" r="5" fill="#c8c6ba" stroke="#777" stroke-width="1"/>
<text class="s" x="237.7" y="519.3">8:12am</text>
<circle cx="310.88" cy="515.60" r="5" fill="#c8c6ba" stroke="#777" stroke-width="1"/>
<text class="s" x="317.7" y="519.3">9:18am</text>
<circle cx="390.94" cy="515.60" r="5" fill="#c8c6ba" stroke="#777" stroke-width="1"/>
<text class="s" x="397.7" y="519.3">10:25am</text>
<circle cx="471.00" cy="515.60" r="5" fill="#c8c6ba" stroke="#777" stroke-width="1"/>
<text class="s" x="477.8" y="519.3">11:32am</text>
<circle cx="551.06" cy="515.60" r="5" fill="#c8c6ba" stroke="#777" stroke-width="1"/>
<text class="s" x="557.9" y="519.3">12:39pm</text>
<circle cx="630.96" cy="515.60" r="5" fill="#c8c6ba" stroke="#777" stroke-width="1"/>
<text class="s" x="637.8" y="519.3">1:43pm</text>
<text class="ar" x="45.5" y="478.6">Sunrise</text>
<text class="a" x="746.5" y="478.6">Sunrise</text>
<text class="ar" x="45.5" y="492.2">Sunset</text>
<text class="a" x="746.5" y="492.2">Sunset</text>
<text class="ar" x="45.5" y="505.5">Moonrise</text>
<text class="a" x="746.5" y="505.5">Moonrise</text>
<text class="ar" x="45.5" y="519.1">Moonset</text>
<text class="a" x="746.5" y="519.1">Moonset</text>
<text class="s" x="515.8" y="532.8" style="font-size:9.5px">Last Quarter <tspan dx="-0.8">|</tspan><tspan dx="1.0" style="font-size:9.75px">7:03pm</tspan></text>
</svg></body></html>
